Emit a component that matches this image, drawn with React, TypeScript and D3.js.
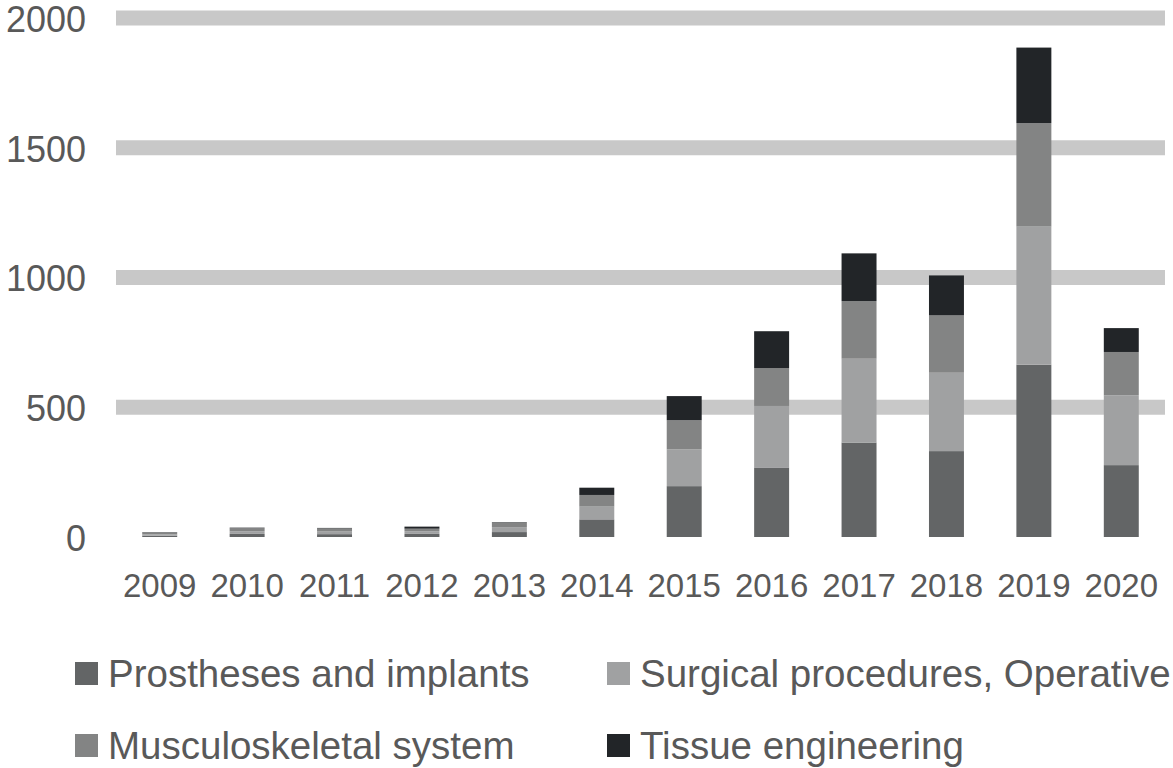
import * as React from 'react';
import * as d3 from 'd3';

const years = ['2009', '2010', '2011', '2012', '2013', '2014', '2015', '2016', '2017', '2018', '2019', '2020'];
const prostheses = [5, 12, 11, 12, 19, 68, 196, 268, 364, 331, 664, 277];
const surgical = [5, 10, 10, 10, 19, 49, 142, 237, 323, 302, 532, 269];
const musculo = [8, 12, 12, 10, 17, 45, 112, 146, 222, 221, 399, 167];
const tissue = [1, 2, 2, 8, 2, 28, 93, 142, 184, 154, 291, 92];
const yTicks = [0, 500, 1000, 1500, 2000];

const SERIES = [
  { key: 'prostheses', label: 'Prostheses and implants', values: prostheses, color: '#636566' },
  { key: 'surgical', label: 'Surgical procedures, Operative', values: surgical, color: '#a0a1a2' },
  { key: 'musculo', label: 'Musculoskeletal system', values: musculo, color: '#838484' },
  { key: 'tissue', label: 'Tissue engineering', values: tissue, color: '#222528' },
];

const W = 1173;
const H = 768;
const FONT = '"Liberation Sans", Arial, sans-serif';
const TEXT = '#595959';

export default function App() {
  const x = d3.scaleBand<string>().domain(years).range([116, 1165]).paddingInner(0.6).paddingOuter(0.3);
  const y = d3.scaleLinear().domain([0, 2000]).range([537, 18]);

  const rows = years.map((yr, i) => {
    const r: Record<string, number | string> = { year: yr };
    SERIES.forEach((s) => (r[s.key] = s.values[i]));
    return r;
  });
  const stack = d3.stack<Record<string, number | string>>().keys(SERIES.map((s) => s.key));
  const layers = stack(rows as any);

  const legendPos = [
    { x: 75, y: 673 },
    { x: 607, y: 673 },
    { x: 75, y: 745 },
    { x: 607, y: 745 },
  ];

  return (
    <svg width={W} height={H} style={{ position: 'absolute', left: 0, top: 0, background: '#fff' }}>
      {/* gridlines */}
      {yTicks.filter((t) => t > 0).map((t) => (
        <line key={t} x1={116} x2={1165} y1={y(t)} y2={y(t)} stroke="#c8c8c8" strokeWidth={15} />
      ))}
      {/* y labels */}
      {yTicks.map((t) => (
        <text key={t} x={86} y={y(t) + 2} dy="0.33em" textAnchor="end" fontFamily={FONT} fontSize={36} fill={TEXT}>
          {t}
        </text>
      ))}
      {/* bars */}
      {layers.map((layer, li) => (
        <g key={SERIES[li].key} fill={SERIES[li].color}>
          {layer.map((d, i) => (
            <rect
              key={i}
              x={x(years[i])}
              width={x.bandwidth()}
              y={y(d[1])}
              height={Math.max(0, y(d[0]) - y(d[1]))}
            />
          ))}
        </g>
      ))}
      {/* x labels */}
      {years.map((yr) => (
        <text key={yr} x={(x(yr) ?? 0) + x.bandwidth() / 2} y={597} textAnchor="middle" fontFamily={FONT} fontSize={33} fill={TEXT}>
          {yr}
        </text>
      ))}
      {/* legend */}
      {SERIES.map((s, i) => (
        <g key={s.key} transform={`translate(${legendPos[i].x},${legendPos[i].y})`}>
          <rect x={0} y={-11} width={23} height={23} fill={s.color} />
          <text x={33} y={0} dy="0.36em" fontFamily={FONT} fontSize={38.5} fill={TEXT}>
            {s.label}
          </text>
        </g>
      ))}
    </svg>
  );
}
